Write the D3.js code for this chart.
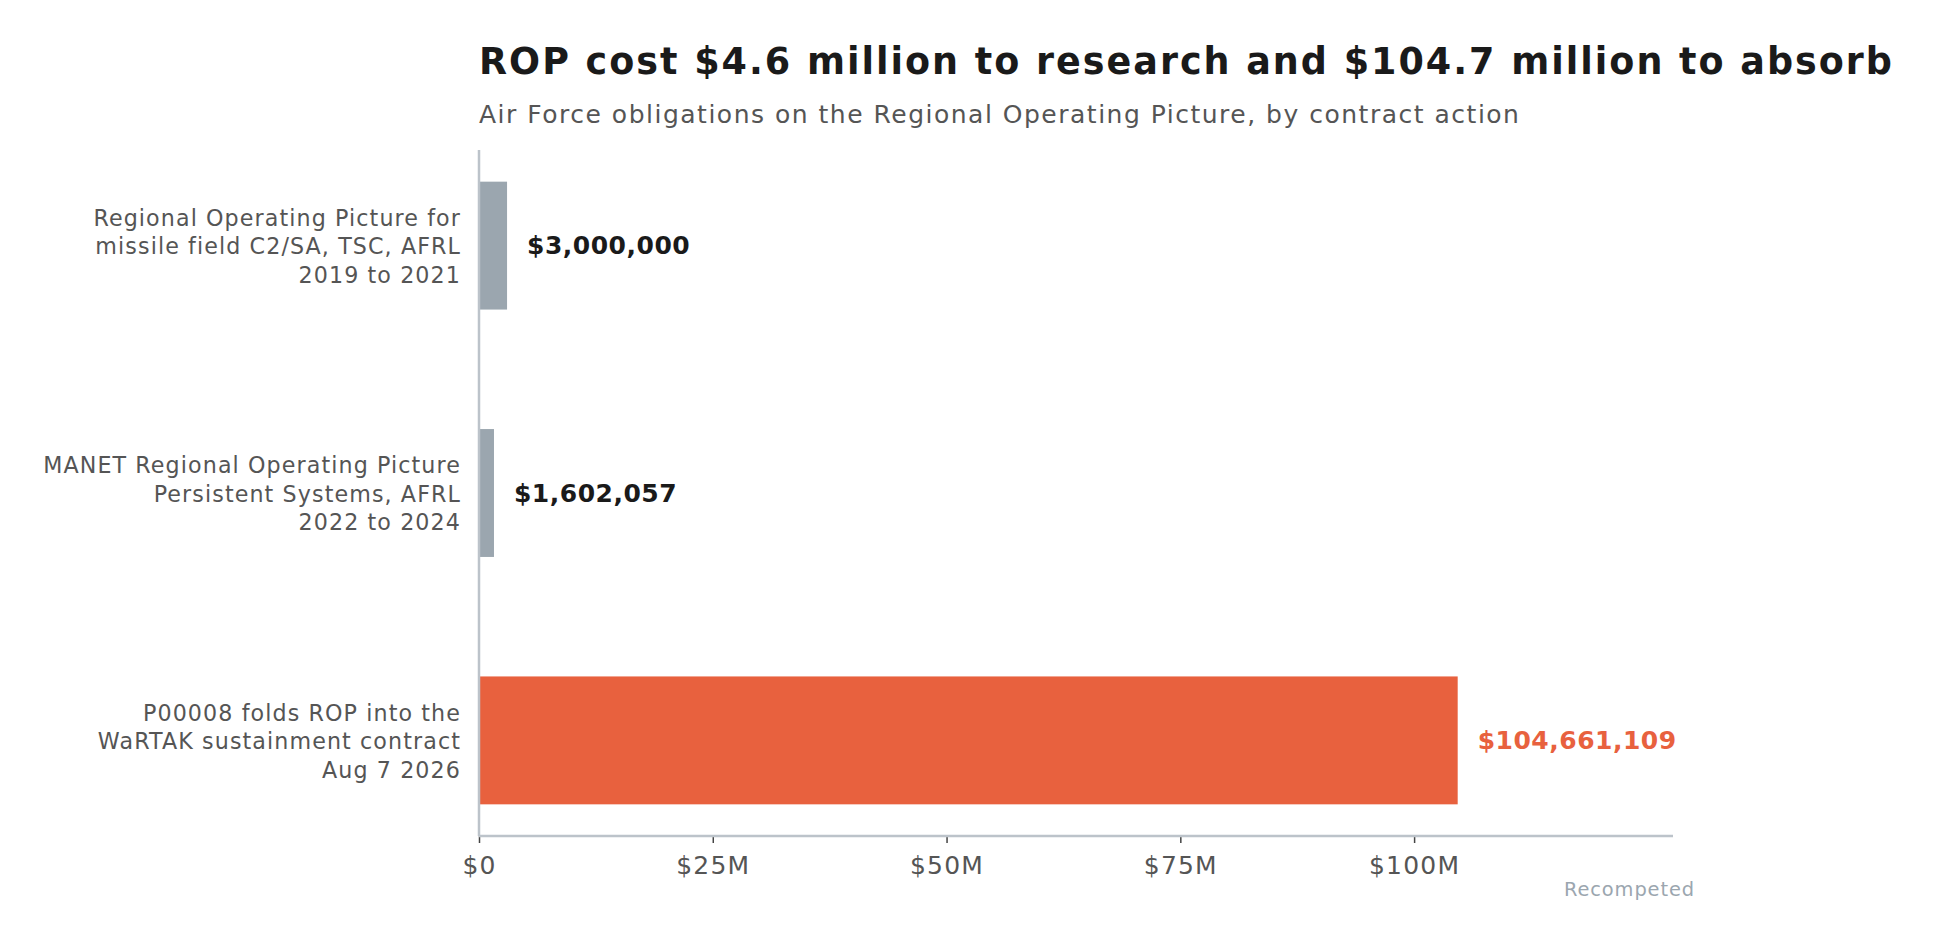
<!DOCTYPE html>
<html>
<head>
<meta charset="utf-8">
<script src="https://cdn.jsdelivr.net/npm/d3@7.9.0/dist/d3.min.js"></script>
<style>
  html, body { margin: 0; padding: 0; background: #fff; }
  svg { display: block; font-family: "DejaVu Sans", sans-serif; }
</style>
</head>
<body>
<svg id="chart" width="1940" height="946"></svg>
<script>
// --- DATA ---
const categories = [
  ["Regional Operating Picture for", "missile field C2/SA, TSC, AFRL", "2019 to 2021"],
  ["MANET Regional Operating Picture", "Persistent Systems, AFRL", "2022 to 2024"],
  ["P00008 folds ROP into the", "WaRTAK sustainment contract", "Aug 7 2026"]
];
const amounts = [3000000, 1602057, 104661109];
const highlighted = [false, false, true];
const tickValues = [0, 25e6, 50e6, 75e6, 100e6];
const tickLabels = ["$0", "$25M", "$50M", "$75M", "$100M"];

const title = "ROP cost $4.6 million to research and $104.7 million to absorb";
const subtitle = "Air Force obligations on the Regional Operating Picture, by contract action";
const note = "Recompeted";

// --- LAYOUT ---
const margin = { left: 479, right: 1940 - 1673, top: 150, bottom: 946 - 836 };
const width = 1940, height = 946;
const grey = "#9ba6af", orange = "#e8613e", axisCol = "#bcc3ca";

const svg = d3.select("#chart");

const x = d3.scaleLinear()
  .domain([0, d3.max(amounts) * 1.22])
  .range([margin.left, width - margin.right]);

const y = d3.scaleBand()
  .domain(d3.range(categories.length))
  .range([margin.top, height - margin.bottom])
  .paddingInner(0.483)
  .paddingOuter(0.128);

// title + subtitle
svg.append("text")
  .attr("x", margin.left).attr("y", 74)
  .attr("font-size", 36.5).attr("font-weight", "bold").attr("fill", "#1a1a1a")
  .attr("letter-spacing", 2.0)
  .text(title);

svg.append("text")
  .attr("x", margin.left).attr("y", 123)
  .attr("font-size", 25).attr("fill", "#555")
  .attr("letter-spacing", 1.5)
  .text(subtitle);

// bars
svg.append("g").selectAll("rect")
  .data(amounts)
  .join("rect")
  .attr("x", x(0))
  .attr("y", (d, i) => y(i))
  .attr("width", d => x(d) - x(0))
  .attr("height", y.bandwidth())
  .attr("fill", (d, i) => highlighted[i] ? orange : grey);

// value labels
const fmt = d3.format("$,");
svg.append("g").selectAll("text")
  .data(amounts)
  .join("text")
  .attr("x", d => x(d) + 20)
  .attr("y", (d, i) => y(i) + y.bandwidth() / 2)
  .attr("dy", "0.34em")
  .attr("font-size", 25).attr("font-weight", "bold")
  .attr("letter-spacing", 0.5)
  .attr("fill", (d, i) => highlighted[i] ? orange : "#1a1a1a")
  .text(d => fmt(d));

// category labels (three lines each)
const lineH = 28.5;
const catG = svg.append("g").selectAll("text")
  .data(categories)
  .join("text")
  .attr("text-anchor", "end")
  .attr("font-size", 22.2).attr("fill", "#555")
  .attr("letter-spacing", 1.1);
catG.selectAll("tspan")
  .data((lines, i) => lines.map((l, j) => ({ l, j, i, n: lines.length })))
  .join("tspan")
  .attr("x", margin.left - 18)
  .attr("y", d => y(d.i) + y.bandwidth() / 2 + (d.j - (d.n - 1) / 2) * lineH)
  .attr("dy", "0.4em")
  .text(d => d.l);

// x axis
const xAxis = svg.append("g")
  .attr("transform", `translate(0,${height - margin.bottom})`)
  .call(d3.axisBottom(x)
    .tickValues(tickValues)
    .tickFormat((d, i) => tickLabels[i])
    .tickSizeOuter(0)
    .tickSize(7)
    .tickPadding(13));
xAxis.select(".domain").remove();
xAxis.selectAll(".tick line").attr("stroke", "#444").attr("stroke-width", 1.5);
xAxis.selectAll(".tick text")
  .attr("font-size", 25).attr("fill", "#555")
  .attr("letter-spacing", 1.2)
  .attr("font-family", "DejaVu Sans, sans-serif");

// spines
svg.append("line")
  .attr("x1", x.range()[0]).attr("x2", x.range()[1])
  .attr("y1", height - margin.bottom).attr("y2", height - margin.bottom)
  .attr("stroke", axisCol).attr("stroke-width", 2.5);
svg.append("line")
  .attr("x1", x(0)).attr("x2", x(0))
  .attr("y1", margin.top).attr("y2", height - margin.bottom)
  .attr("stroke", axisCol).attr("stroke-width", 2.5);

// note
svg.append("text")
  .attr("x", 1695).attr("y", 896)
  .attr("text-anchor", "end")
  .attr("font-size", 19.4).attr("fill", "#9ba6af")
  .attr("letter-spacing", 0.9)
  .text(note);
</script>
</body>
</html>
